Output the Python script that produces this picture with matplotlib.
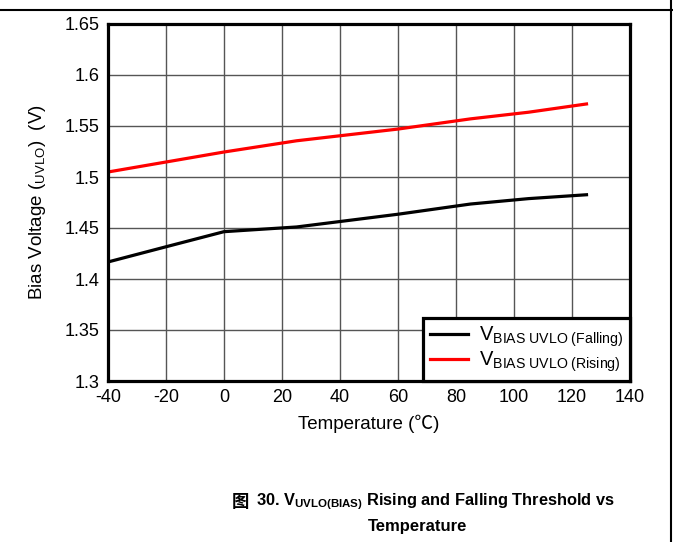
import matplotlib
matplotlib.use("Agg")
import matplotlib.pyplot as plt
from matplotlib.lines import Line2D

plt.rcParams['font.family'] = ['Liberation Sans', 'Noto Sans CJK SC', 'DejaVu Sans']
plt.rcParams['mathtext.fontset'] = 'custom'
plt.rcParams['mathtext.rm'] = 'Liberation Sans'
plt.rcParams['mathtext.it'] = 'Liberation Sans:italic'
plt.rcParams['mathtext.bf'] = 'Liberation Sans:bold'
plt.rcParams['axes.unicode_minus'] = False

# data
temp_falling = [-40, -20, 0, 25, 60, 85, 105, 125]
v_falling = [1.4167, 1.4316, 1.4464, 1.4510, 1.4635, 1.4735, 1.4788, 1.4826]
temp_rising = [-40, -20, 0, 25, 60, 85, 105, 125]
v_rising = [1.5049, 1.5147, 1.5245, 1.5355, 1.5470, 1.5570, 1.5635, 1.5716]

x_ticks = [-40, -20, 0, 20, 40, 60, 80, 100, 120, 140]
y_ticks = [1.3, 1.35, 1.4, 1.45, 1.5, 1.55, 1.6, 1.65]
y_labels = ["1.3", "1.35", "1.4", "1.45", "1.5", "1.55", "1.6", "1.65"]

fig = plt.figure(figsize=(6.73, 5.42), dpi=100)
ax = fig.add_axes([108 / 673, 1 - 381 / 542, 522 / 673, 357 / 542])

ax.plot(temp_falling, v_falling, color="black", lw=2.3,
        label=r"V$_{\mathrm{BIAS\ UVLO\ (Falling)}}$")
ax.plot(temp_rising, v_rising, color="#ff0000", lw=2.3,
        label=r"V$_{\mathrm{BIAS\ UVLO\ (Rising)}}$")

ax.set_xlim(-40, 140)
ax.set_ylim(1.3, 1.65)
ax.set_xticks(x_ticks)
ax.set_yticks(y_ticks)
ax.set_yticklabels(y_labels)
ax.tick_params(length=0, labelsize=13, pad=6)
ax.grid(True, color="#555555", lw=1.0)
ax.set_axisbelow(True)
for s in ax.spines.values():
    s.set_linewidth(2.3)
    s.set_color("black")

ax.set_xlabel("Temperature (℃)", fontsize=13.5, labelpad=6)
ax.set_ylabel(r"Bias Voltage ($_{\mathrm{UVLO}}$)  (V)", fontsize=13.5, labelpad=12)

leg = ax.legend(loc="lower right", fontsize=14.5, frameon=True, fancybox=False,
                borderaxespad=0, handlelength=1.9, handletextpad=0.55,
                labelspacing=0.0, borderpad=0.35)
leg.get_frame().set_edgecolor("black")
leg.get_frame().set_linewidth(2.3)
leg.get_frame().set_alpha(1)

# caption
fig.text(232 / 673, 1 - 502 / 542, "图", family=["Noto Sans CJK SC"],
         ha="left", va="center", fontsize=12.5, fontweight="bold")
fig.text(256 / 673, 1 - 502 / 542,
         r"30. V$_{\mathbf{UVLO(BIAS)}}$ Rising and Falling Threshold vs",
         ha="left", va="center", fontsize=11.8, fontweight="bold")
fig.text(418 / 673, 1 - 527 / 542, "Temperature",
         ha="center", va="center", fontsize=12, fontweight="bold")

# page frame lines
fig.add_artist(Line2D([0, 1], [1 - 10 / 542, 1 - 10 / 542], color="black", lw=1.5))
fig.add_artist(Line2D([670.5 / 673, 670.5 / 673], [0, 1], color="black", lw=1.5))

fig.savefig("out.png", dpi=100)
